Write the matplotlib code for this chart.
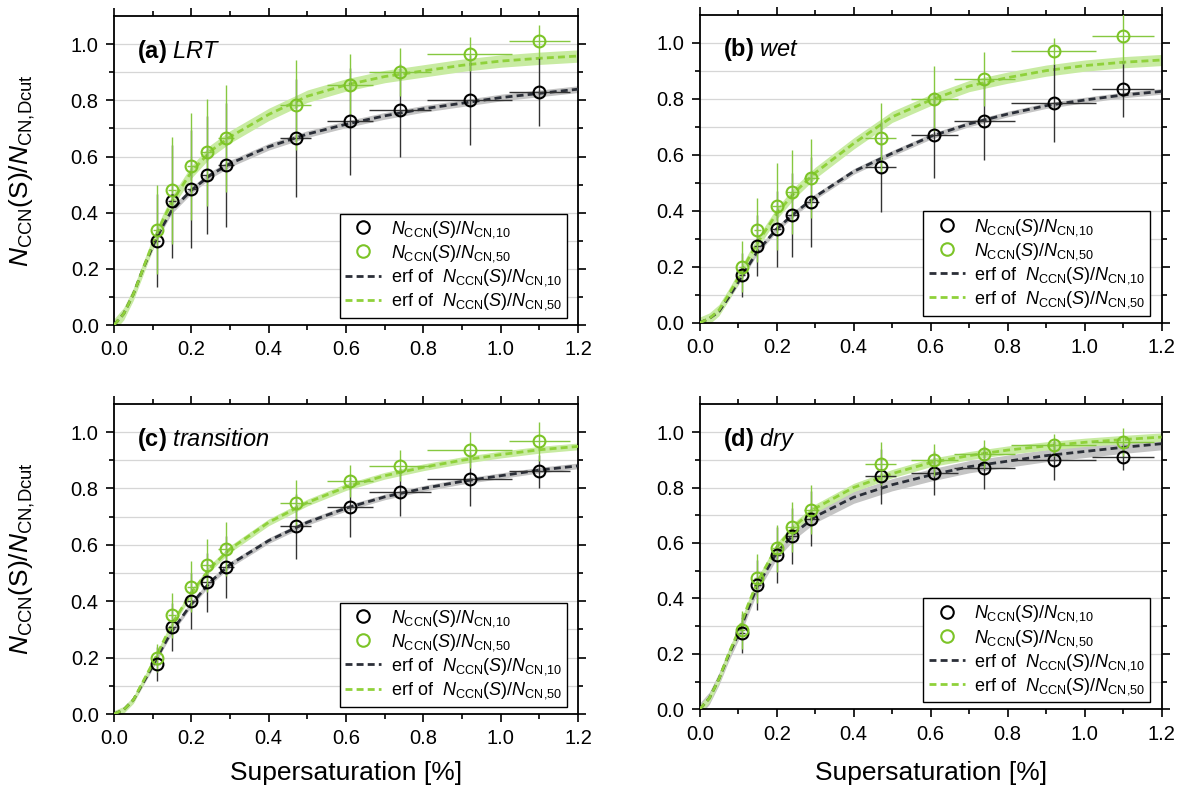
import numpy as np
import matplotlib.pyplot as plt
from matplotlib.lines import Line2D

plt.rcParams['font.family'] = ['Liberation Sans', 'DejaVu Sans']
plt.rcParams['mathtext.fontset'] = 'custom'
plt.rcParams['mathtext.rm'] = 'Liberation Sans'
plt.rcParams['mathtext.it'] = 'Liberation Sans:italic'
plt.rcParams['mathtext.bf'] = 'Liberation Sans:bold'

# measured supersaturation levels and their spread
ss = [0.11, 0.15, 0.20, 0.24, 0.29, 0.47, 0.61, 0.74, 0.92, 1.10]
ss_err = [0.008, 0.01, 0.012, 0.015, 0.02, 0.04, 0.06, 0.08, 0.11, 0.08]

ss_fit = [0, 0.025, 0.05, 0.075, 0.1, 0.125, 0.15, 0.2, 0.25, 0.3, 0.4, 0.5,
          0.6, 0.7, 0.8, 0.9, 1.0, 1.1, 1.2]

# (a) LRT
lrt_n10 = [0.30, 0.44, 0.485, 0.535, 0.57, 0.665, 0.725, 0.765, 0.80, 0.83]
lrt_n10_err = [0.165, 0.20, 0.21, 0.21, 0.22, 0.21, 0.19, 0.165, 0.16, 0.12]
lrt_n50 = [0.34, 0.48, 0.565, 0.615, 0.665, 0.785, 0.855, 0.90, 0.965, 1.01]
lrt_n50_err = [0.16, 0.19, 0.19, 0.19, 0.19, 0.16, 0.11, 0.085, 0.06, 0.06]
lrt_fit10 = [0, 0.04, 0.11, 0.20, 0.28, 0.35, 0.41, 0.48, 0.535, 0.575, 0.635,
             0.68, 0.715, 0.745, 0.77, 0.79, 0.81, 0.825, 0.84]
lrt_fit50 = [0, 0.04, 0.11, 0.20, 0.29, 0.37, 0.44, 0.545, 0.62, 0.67, 0.75,
             0.815, 0.855, 0.885, 0.905, 0.925, 0.94, 0.95, 0.958]

# (b) wet
wet_n10 = [0.17, 0.275, 0.335, 0.385, 0.43, 0.555, 0.67, 0.72, 0.785, 0.835]
wet_n10_err = [0.08, 0.11, 0.135, 0.15, 0.16, 0.16, 0.155, 0.14, 0.14, 0.10]
wet_n50 = [0.20, 0.33, 0.415, 0.465, 0.515, 0.66, 0.80, 0.87, 0.97, 1.025]
wet_n50_err = [0.09, 0.115, 0.155, 0.15, 0.14, 0.125, 0.115, 0.095, 0.045, 0.10]
wet_fit10 = [0, 0.015, 0.04, 0.09, 0.145, 0.20, 0.255, 0.335, 0.395, 0.45, 0.54,
             0.605, 0.665, 0.71, 0.745, 0.775, 0.795, 0.813, 0.826]
wet_fit50 = [0, 0.015, 0.045, 0.10, 0.16, 0.225, 0.285, 0.39, 0.47, 0.535, 0.64,
             0.735, 0.795, 0.845, 0.875, 0.90, 0.918, 0.93, 0.938]

# (c) transition
tra_n10 = [0.176, 0.307, 0.40, 0.467, 0.52, 0.665, 0.734, 0.787, 0.833, 0.86]
tra_n10_err = [0.06, 0.085, 0.10, 0.105, 0.11, 0.115, 0.105, 0.085, 0.097, 0.06]
tra_n50 = [0.20, 0.35, 0.452, 0.527, 0.586, 0.75, 0.827, 0.88, 0.937, 0.967]
tra_n50_err = [0.05, 0.08, 0.09, 0.095, 0.095, 0.08, 0.057, 0.055, 0.063, 0.07]
tra_fit10 = [0, 0.015, 0.05, 0.11, 0.17, 0.235, 0.295, 0.39, 0.47, 0.53, 0.615,
             0.68, 0.73, 0.77, 0.80, 0.825, 0.845, 0.865, 0.88]
tra_fit50 = [0, 0.015, 0.05, 0.115, 0.18, 0.25, 0.32, 0.43, 0.52, 0.585, 0.68,
             0.75, 0.805, 0.845, 0.875, 0.90, 0.92, 0.937, 0.949]

# (d) dry
dry_n10 = [0.274, 0.448, 0.556, 0.625, 0.688, 0.84, 0.852, 0.872, 0.898, 0.91]
dry_n10_err = [0.07, 0.09, 0.10, 0.10, 0.10, 0.10, 0.08, 0.076, 0.072, 0.048]
dry_n50 = [0.286, 0.472, 0.58, 0.658, 0.72, 0.886, 0.90, 0.922, 0.954, 0.964]
dry_n50_err = [0.07, 0.088, 0.084, 0.09, 0.088, 0.078, 0.058, 0.05, 0.04, 0.052]
dry_fit10 = [0, 0.04, 0.11, 0.195, 0.27, 0.36, 0.445, 0.565, 0.64, 0.695, 0.765,
             0.81, 0.845, 0.875, 0.895, 0.915, 0.93, 0.945, 0.958]
dry_fit50 = [0, 0.04, 0.11, 0.20, 0.28, 0.375, 0.46, 0.585, 0.665, 0.725, 0.80,
             0.85, 0.89, 0.915, 0.935, 0.95, 0.963, 0.973, 0.982]

# fit uncertainty half-widths (black, green)
band10 = [0.012, 0.01, 0.01, 0.022]
band50 = [0.022, 0.02, 0.012, 0.015]

letters = ['a', 'b', 'c', 'd']
names = ['LRT', 'wet', 'transition', 'dry']
n10_all = [lrt_n10, wet_n10, tra_n10, dry_n10]
n10_err_all = [lrt_n10_err, wet_n10_err, tra_n10_err, dry_n10_err]
n50_all = [lrt_n50, wet_n50, tra_n50, dry_n50]
n50_err_all = [lrt_n50_err, wet_n50_err, tra_n50_err, dry_n50_err]
fit10_all = [lrt_fit10, wet_fit10, tra_fit10, dry_fit10]
fit50_all = [lrt_fit50, wet_fit50, tra_fit50, dry_fit50]

green = '#7cc427'
green_line = '#8fd13a'
dark = '#2b2f38'

positions = [(0.0963, 0.5917, 0.392, 0.388),
             (0.591, 0.5946, 0.390, 0.387),
             (0.0963, 0.103, 0.392, 0.3897),
             (0.591, 0.109, 0.390, 0.383)]
xlabel_y = [None, None, -0.152, -0.17]

fig = plt.figure(figsize=(11.84, 7.96), dpi=100)

lab10 = r'$N_{\mathrm{CCN}}(S)/N_{\mathrm{CN{,}10}}$'
lab50 = r'$N_{\mathrm{CCN}}(S)/N_{\mathrm{CN{,}50}}$'

for i in range(4):
    ax = fig.add_axes(positions[i])
    xf = np.array(ss_fit)
    f10 = np.array(fit10_all[i])
    f50 = np.array(fit50_all[i])

    # fit uncertainty bands and the erf fits
    ax.fill_between(xf, f10 - band10[i], f10 + band10[i], color='#c4c4c4',
                    lw=0, zorder=2)
    ax.fill_between(xf, f50 - band50[i], f50 + band50[i], color='#c8eba2',
                    lw=0, zorder=2)
    ax.plot(xf, f10, ls=(0, (2.5, 1.5)), color=dark, lw=2, zorder=3)
    ax.plot(xf, f50, ls=(0, (2.5, 1.5)), color=green_line, lw=2, zorder=3)

    # measured ratios with error bars
    ax.errorbar(ss, n10_all[i], yerr=n10_err_all[i], xerr=ss_err, fmt='none',
                ecolor='#333333', elinewidth=1.0, zorder=4)
    ax.errorbar(ss, n50_all[i], yerr=n50_err_all[i], xerr=ss_err, fmt='none',
                ecolor='#86c840', elinewidth=1.0, zorder=4)
    ax.plot(ss, n10_all[i], 'o', mfc='none', mec='black', ms=8.5, mew=1.5,
            zorder=5)
    ax.plot(ss, n50_all[i], 'o', mfc='none', mec=green, ms=8.5, mew=1.5,
            zorder=6)

    ax.set_xlim(0, 1.2)
    ax.set_ylim(0, 1.1)
    ax.set_xticks(np.arange(0, 1.21, 0.2))
    ax.set_xticks(np.arange(0.1, 1.2, 0.2), minor=True)
    ax.set_yticks(np.arange(0, 1.01, 0.2))
    ax.set_yticks(np.arange(0.1, 1.1, 0.2), minor=True)
    ax.set_xticklabels(['%.1f' % v for v in np.arange(0, 1.21, 0.2)])
    ax.set_yticklabels(['%.1f' % v for v in np.arange(0, 1.01, 0.2)])
    ax.tick_params(which='both', direction='out', top=True, right=True,
                   width=1.2, labelsize=14.5, pad=5)
    ax.tick_params(which='major', length=6)
    ax.tick_params(which='minor', length=3.5)
    for sp in ax.spines.values():
        sp.set_linewidth(1.3)

    for yg in np.arange(0.1, 1.05, 0.1):
        ax.axhline(yg, color='#d6d6d6', lw=0.9, zorder=1)

    ax.text(0.05, 0.865, r'$\mathbf{(%s)}$ $\mathit{%s}$' % (letters[i], names[i]),
            transform=ax.transAxes, fontsize=17, va='baseline', zorder=7)

    handles = [
        Line2D([], [], marker='o', ls='none', mfc='none', mec='black', ms=9, mew=1.5),
        Line2D([], [], marker='o', ls='none', mfc='none', mec=green, ms=9, mew=1.5),
        Line2D([], [], ls=(0, (2.5, 1.5)), color=dark, lw=2),
        Line2D([], [], ls=(0, (2.5, 1.5)), color=green_line, lw=2),
    ]
    labels = [lab10, lab50, 'erf of  ' + lab10, 'erf of  ' + lab50]
    leg = ax.legend(handles, labels, loc='lower right',
                    bbox_to_anchor=(0.976, 0.023), borderaxespad=0,
                    fontsize=13, fancybox=False, framealpha=1,
                    edgecolor='black', handlelength=2.0, labelspacing=0.18,
                    borderpad=0.3, handletextpad=0.5)
    leg.get_frame().set_linewidth(1.0)
    leg.set_zorder(8)

    if i in (0, 2):
        ax.set_ylabel(r'$N_{\mathrm{CCN}}(\mathrm{S})/N_{\mathrm{CN{,}Dcut}}$',
                      fontsize=19)
        ax.yaxis.set_label_coords(-0.166, 0.5)
    if i in (2, 3):
        ax.set_xlabel('Supersaturation [%]', fontsize=19)
        ax.xaxis.set_label_coords(0.5, xlabel_y[i])

fig.savefig('out.png', dpi=100)
